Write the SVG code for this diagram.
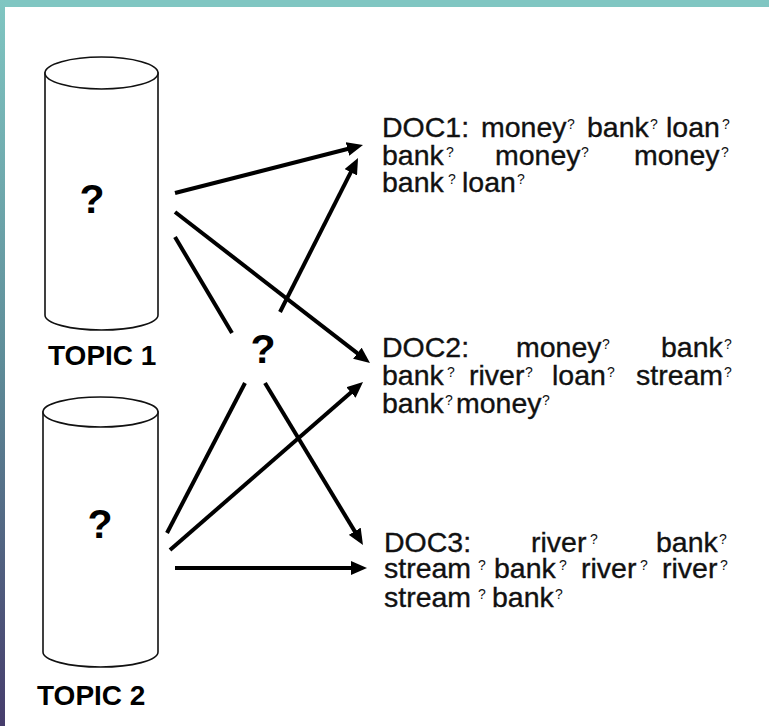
<svg xmlns="http://www.w3.org/2000/svg" width="769" height="726" viewBox="0 0 769 726">
<defs>
<linearGradient id="lg" x1="0" y1="0" x2="0" y2="1">
<stop offset="0" stop-color="#80C6C2"/>
<stop offset="0.5" stop-color="#5E8C98"/>
<stop offset="1" stop-color="#463D6C"/>
</linearGradient>
<marker id="ah" viewBox="0 0 16 14" refX="6" refY="7" markerWidth="16" markerHeight="14" markerUnits="userSpaceOnUse" orient="auto">
<path d="M0,0 L16,7 L0,14 Z" fill="#000"/>
</marker>
<style>
.cyl{fill:#fff;stroke:#111;stroke-width:1.6}
.con{stroke:#000;stroke-width:4;fill:none;stroke-linecap:butt}
.arr{marker-end:url(#ah)}
.t{font-family:"Liberation Sans",Arial,sans-serif;font-size:28.5px;fill:#111;stroke:#111;stroke-width:0.35}
.s{font-family:"Liberation Sans",Arial,sans-serif;font-size:14px;fill:#111}
.q{font-family:"Liberation Sans",Arial,sans-serif;font-size:41px;font-weight:bold;fill:#000;text-anchor:middle}
.lbl{font-family:"Liberation Sans",Arial,sans-serif;font-size:28px;font-weight:bold;fill:#000}
</style>
</defs>
<rect x="0" y="0" width="769" height="726" fill="#fff"/>
<rect x="0" y="0" width="769" height="7" fill="#80C6C2"/>
<rect x="0" y="0" width="5" height="726" fill="url(#lg)"/>

<g id="topic1">
<path class="cyl" d="M45,73 L45,315 A56.5,15 0 0 0 158,315 L158,73 Z"/>
<ellipse class="cyl" cx="101.5" cy="73" rx="56.5" ry="16"/>
<text class="q" x="92" y="213">?</text>
<text class="lbl" x="48" y="365">TOPIC 1</text>
</g>

<g id="topic2">
<path class="cyl" d="M43,412 L43,652 A57.5,15 0 0 0 158,652 L158,412 Z"/>
<ellipse class="cyl" cx="100.5" cy="412" rx="57.5" ry="15"/>
<text class="q" x="100" y="538">?</text>
<text class="lbl" x="37" y="705">TOPIC 2</text>
</g>

<g id="center-q">
<text class="q" x="263" y="363">?</text>
</g>

<g id="connectors">
<line class="con arr" x1="175" y1="193" x2="353.3" y2="147.5"/>
<line class="con arr" x1="175" y1="212" x2="362.1" y2="356.9"/>
<line class="con" x1="175" y1="237" x2="232" y2="333"/>
<line class="con arr" x1="280" y1="312" x2="353.5" y2="166.9"/>
<line class="con" x1="167" y1="533" x2="245" y2="383"/>
<line class="con arr" x1="170" y1="550" x2="355.5" y2="388.6"/>
<line class="con arr" x1="265" y1="383" x2="357.8" y2="536.4"/>
<line class="con arr" x1="175" y1="568" x2="357" y2="568"/>
</g>

<g id="doc1">
<text class="t" x="382" y="137">DOC1:</text>
<text class="t" x="481" y="137">money</text><text class="s" x="567" y="129">?</text>
<text class="t" x="587" y="137">bank</text><text class="s" x="650" y="129">?</text>
<text class="t" x="666" y="137">loan</text><text class="s" x="722" y="129">?</text>
<text class="t" x="382" y="165">bank</text><text class="s" x="446" y="157">?</text>
<text class="t" x="495" y="165">money</text><text class="s" x="581" y="157">?</text>
<text class="t" x="634" y="165">money</text><text class="s" x="721" y="157">?</text>
<text class="t" x="382" y="192">bank</text><text class="s" x="448" y="184">?</text>
<text class="t" x="462" y="192">loan</text><text class="s" x="517" y="184">?</text>
</g>

<g id="doc2">
<text class="t" x="382" y="357">DOC2:</text>
<text class="t" x="516" y="357">money</text><text class="s" x="602" y="349">?</text>
<text class="t" x="661" y="357">bank</text><text class="s" x="724" y="349">?</text>
<text class="t" x="382" y="385">bank</text><text class="s" x="447" y="377">?</text>
<text class="t" x="469" y="385">river</text><text class="s" x="525" y="377">?</text>
<text class="t" x="552" y="385">loan</text><text class="s" x="607" y="377">?</text>
<text class="t" x="636" y="385">stream</text><text class="s" x="724" y="377">?</text>
<text class="t" x="382" y="413">bank</text><text class="s" x="445" y="405">?</text>
<text class="t" x="456" y="413">money</text><text class="s" x="542" y="405">?</text>
</g>

<g id="doc3">
<text class="t" x="384" y="552">DOC3:</text>
<text class="t" x="531" y="552">river</text><text class="s" x="590" y="544">?</text>
<text class="t" x="656" y="552">bank</text><text class="s" x="719" y="544">?</text>
<text class="t" x="384" y="578">stream</text><text class="s" x="478" y="570">?</text>
<text class="t" x="494" y="578">bank</text><text class="s" x="559" y="570">?</text>
<text class="t" x="581" y="578">river</text><text class="s" x="640" y="570">?</text>
<text class="t" x="662" y="578">river</text><text class="s" x="720" y="570">?</text>
<text class="t" x="384" y="607">stream</text><text class="s" x="478" y="599">?</text>
<text class="t" x="492" y="607">bank</text><text class="s" x="555" y="599">?</text>
</g>
</svg>
